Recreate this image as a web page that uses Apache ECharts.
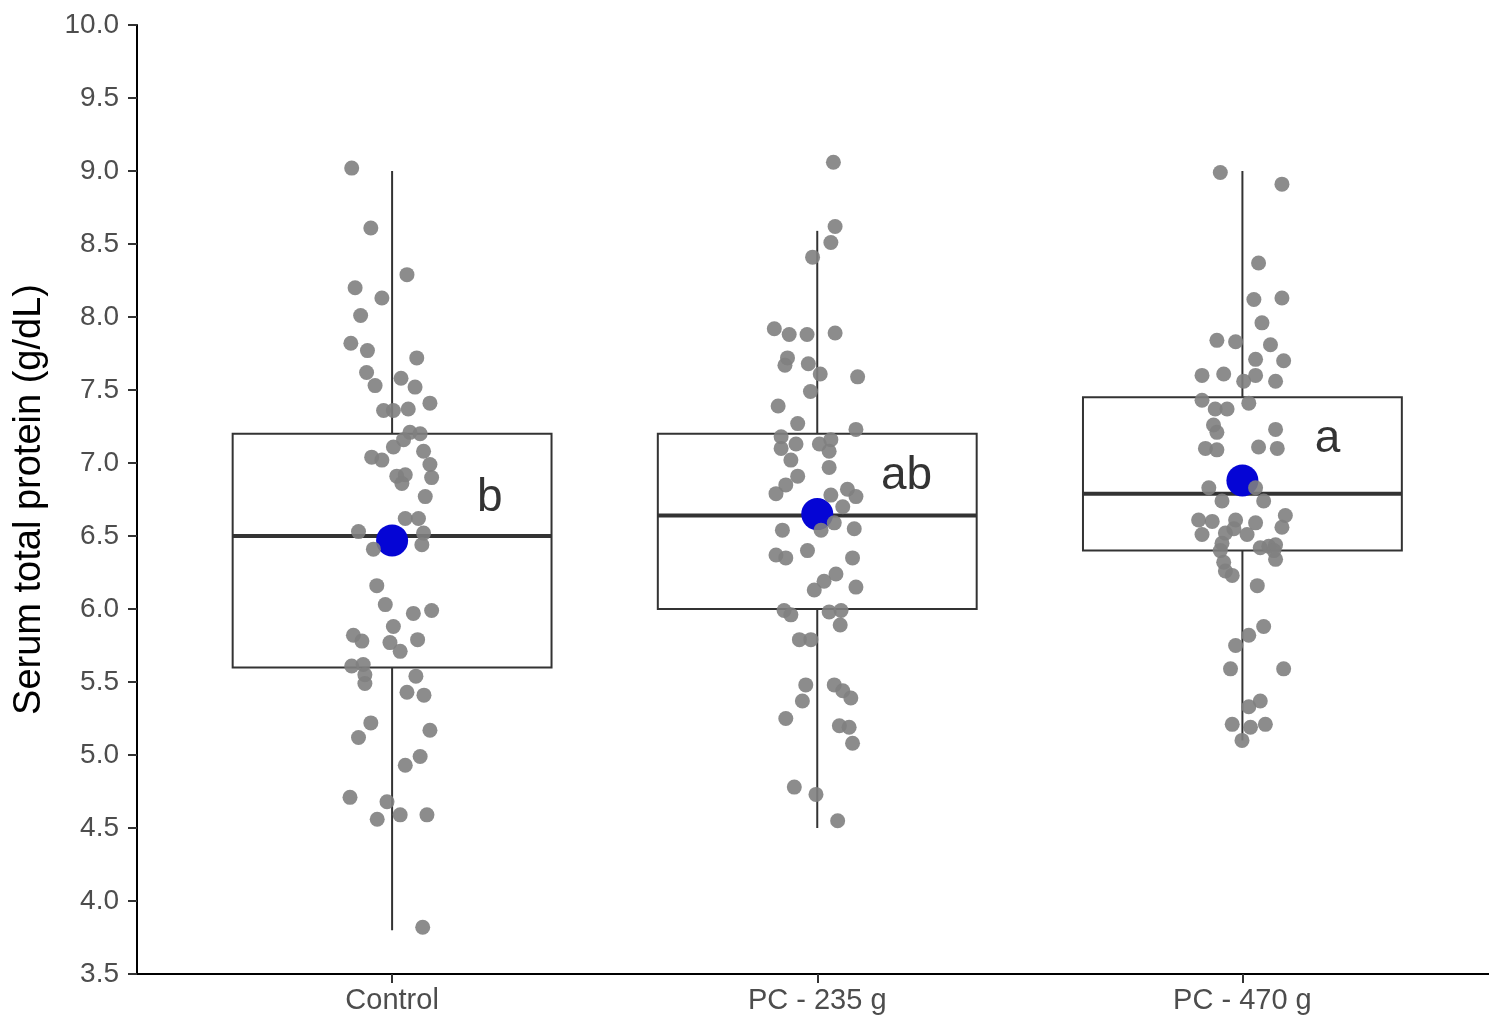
<!DOCTYPE html>
<html>
<head>
<meta charset="utf-8">
<script src="https://cdn.jsdelivr.net/npm/echarts@6/dist/echarts.min.js"></script>
<style>
html,body{margin:0;padding:0;background:#fff;}
#chart{width:1489px;height:1026px;}
</style>
</head>
<body>
<div id="chart"></div>
<script>
// ---- data ----
const categories = ['Control', 'PC - 235 g', 'PC - 470 g'];
const yTicks = [3.5, 4.0, 4.5, 5.0, 5.5, 6.0, 6.5, 7.0, 7.5, 8.0, 8.5, 9.0, 9.5, 10.0];
const whiskerLow = [3.8, 4.5, 5.1];
const q1 = [5.6, 6.0, 6.4];
const median = [6.5, 6.64, 6.79];
const q3 = [7.2, 7.2, 7.45];
const whiskerHigh = [9.0, 8.59, 9.0];
const means = [6.47, 6.65, 6.88];
const letters = ['b', 'ab', 'a'];
const letterAt = [[1.23, 6.76], [2.21, 6.91], [3.2, 7.16]];

// jitter: [horizontal offset from category centre, value]
const controlPoints = [
  [-0.095, 9.02], [-0.05, 8.61], [0.035, 8.29], [-0.087, 8.20], [-0.024, 8.13], [-0.074, 8.01],
  [-0.097, 7.82], [-0.058, 7.77], [0.058, 7.72], [-0.06, 7.62], [0.021, 7.58], [-0.04, 7.53],
  [0.054, 7.52], [0.089, 7.41], [-0.02, 7.36], [0.003, 7.36], [0.038, 7.37], [0.042, 7.21],
  [0.066, 7.20], [0.027, 7.16], [0.003, 7.11], [-0.048, 7.04], [-0.024, 7.02], [0.074, 7.08],
  [0.089, 6.99], [0.011, 6.91], [0.031, 6.92], [0.093, 6.90], [0.023, 6.86], [0.078, 6.77],
  [0.031, 6.62], [0.062, 6.62], [-0.079, 6.53], [0.074, 6.52], [-0.044, 6.41], [0.07, 6.44],
  [-0.036, 6.16], [-0.016, 6.03], [0.05, 5.97], [0.093, 5.99], [0.003, 5.88], [-0.091, 5.82],
  [-0.071, 5.78], [-0.005, 5.77], [0.06, 5.79], [0.019, 5.71], [-0.095, 5.61], [-0.068, 5.62],
  [-0.064, 5.55], [-0.064, 5.49], [0.056, 5.54], [0.035, 5.43], [0.075, 5.41], [-0.05, 5.22],
  [-0.079, 5.12], [0.089, 5.17], [0.066, 4.99], [0.031, 4.93], [-0.099, 4.71], [-0.012, 4.68],
  [-0.035, 4.56], [0.019, 4.59], [0.082, 4.59], [0.072, 3.82]
];
const pc235Points = [
  [0.038, 9.06], [0.042, 8.62], [0.032, 8.51], [-0.011, 8.41], [-0.101, 7.92], [-0.066, 7.88],
  [-0.024, 7.88], [0.042, 7.89], [-0.07, 7.72], [-0.076, 7.67], [-0.021, 7.68], [0.007, 7.61],
  [0.095, 7.59], [-0.016, 7.49], [-0.092, 7.39], [-0.046, 7.27], [0.091, 7.23], [-0.085, 7.18],
  [-0.085, 7.10], [-0.05, 7.13], [0.005, 7.13], [0.032, 7.16], [0.028, 7.08], [-0.062, 7.02],
  [0.028, 6.97], [-0.046, 6.91], [-0.074, 6.85], [-0.097, 6.79], [0.071, 6.82], [0.091, 6.77],
  [0.032, 6.78], [0.06, 6.70], [-0.082, 6.54], [0.009, 6.54], [0.087, 6.55], [0.04, 6.59],
  [-0.097, 6.37], [-0.074, 6.35], [-0.023, 6.40], [0.083, 6.35], [-0.007, 6.13], [0.016, 6.19],
  [0.044, 6.24], [0.091, 6.15], [-0.078, 5.99], [-0.062, 5.96], [0.028, 5.98], [0.056, 5.99],
  [0.054, 5.89], [-0.042, 5.79], [-0.015, 5.79], [-0.027, 5.48], [-0.035, 5.37], [0.04, 5.48],
  [0.06, 5.44], [0.079, 5.39], [-0.074, 5.25], [0.052, 5.20], [0.075, 5.19], [0.083, 5.08],
  [-0.054, 4.78], [-0.003, 4.73], [0.048, 4.55]
];
const pc470Points = [
  [-0.052, 8.99], [0.093, 8.91], [0.038, 8.37], [0.027, 8.12], [0.093, 8.13], [0.046, 7.96],
  [-0.06, 7.84], [-0.016, 7.83], [0.066, 7.81], [0.031, 7.71], [0.097, 7.70], [-0.095, 7.60],
  [-0.044, 7.61], [0.031, 7.60], [0.003, 7.56], [0.078, 7.56], [-0.095, 7.43], [-0.064, 7.37],
  [-0.036, 7.37], [0.015, 7.41], [-0.068, 7.26], [-0.06, 7.21], [0.078, 7.23], [-0.087, 7.10],
  [-0.06, 7.09], [0.038, 7.11], [0.082, 7.10], [-0.079, 6.83], [-0.048, 6.74], [0.031, 6.83],
  [0.05, 6.74], [-0.103, 6.61], [-0.071, 6.60], [-0.016, 6.61], [0.101, 6.64], [0.093, 6.56],
  [0.031, 6.59], [-0.095, 6.51], [-0.04, 6.52], [-0.02, 6.55], [0.011, 6.51], [-0.048, 6.45],
  [0.062, 6.43], [0.078, 6.44], [-0.052, 6.40], [0.042, 6.42], [0.074, 6.40], [0.078, 6.34],
  [-0.044, 6.32], [-0.04, 6.26], [-0.024, 6.23], [0.035, 6.16], [0.05, 5.88], [0.015, 5.82],
  [-0.016, 5.75], [-0.028, 5.59], [0.097, 5.59], [0.042, 5.37], [0.015, 5.33], [-0.024, 5.21],
  [0.019, 5.19], [0.054, 5.21], [-0.001, 5.10]
];
const groupPoints = [controlPoints, pc235Points, pc470Points];

// ---- build ----
const FONT = '"Liberation Sans", Arial, sans-serif';
const boxHalf = 0.375;
const boxData = categories.map((c, i) => [i + 1, whiskerLow[i], q1[i], median[i], q3[i], whiskerHigh[i]]);
const pointData = [];
groupPoints.forEach((pts, i) => pts.forEach(p => pointData.push([i + 1 + p[0], p[1]])));
const meanData = means.map((m, i) => [i + 1, m]);
const letterData = letters.map((l, i) => ({ value: letterAt[i], name: l }));

const chart = echarts.init(document.getElementById('chart'), null, { renderer: 'canvas' });
chart.setOption({
  animation: false,
  backgroundColor: '#ffffff',
  grid: { left: 137, right: 0, top: 25, bottom: 52, containLabel: false },
  xAxis: {
    type: 'value', min: 0.4, max: 3.58,
    splitLine: { show: false },
    axisLine: { show: true, onZero: false, lineStyle: { color: '#000', width: 2 } },
    axisTick: { show: true, length: 9, lineStyle: { color: '#333', width: 2 }, customValues: [1, 2, 3] },
    axisLabel: {
      customValues: [1, 2, 3], margin: 12,
      formatter: v => categories[Math.round(v) - 1] || '',
      color: '#4D4D4D', fontSize: 29, fontFamily: FONT
    }
  },
  yAxis: {
    type: 'value', min: 3.5, max: 10, interval: 0.5,
    name: 'Serum total protein (g/dL)', nameLocation: 'middle', nameGap: 88,
    nameTextStyle: { color: '#000', fontSize: 38, fontFamily: FONT },
    splitLine: { show: false },
    axisLine: { show: true, onZero: false, lineStyle: { color: '#000', width: 2 } },
    axisTick: { show: true, length: 9, lineStyle: { color: '#333', width: 2 } },
    axisLabel: {
      margin: 18, color: '#4D4D4D', fontSize: 28, fontFamily: FONT,
      formatter: v => yTicks.some(t => Math.abs(t - v) < 1e-6) ? v.toFixed(1) : ''
    }
  },
  series: [
    {
      type: 'custom', z: 1,
      data: boxData,
      renderItem: function (params, api) {
        const x = api.value(0);
        const lo = api.coord([x, api.value(1)]);
        const b1 = api.coord([x, api.value(2)]);
        const md = api.coord([x, api.value(3)]);
        const b3 = api.coord([x, api.value(4)]);
        const hi = api.coord([x, api.value(5)]);
        const left = api.coord([x - boxHalf, api.value(3)])[0];
        const right = api.coord([x + boxHalf, api.value(3)])[0];
        const stroke = { stroke: '#333333', lineWidth: 2 };
        return {
          type: 'group',
          children: [
            { type: 'line', shape: { x1: hi[0], y1: hi[1], x2: b3[0], y2: b3[1] }, style: stroke },
            { type: 'line', shape: { x1: b1[0], y1: b1[1], x2: lo[0], y2: lo[1] }, style: stroke },
            { type: 'rect', shape: { x: left, y: b3[1], width: right - left, height: b1[1] - b3[1] },
              style: { fill: '#ffffff', stroke: '#333333', lineWidth: 2 } },
            { type: 'line', shape: { x1: left, y1: md[1], x2: right, y2: md[1] },
              style: { stroke: '#333333', lineWidth: 4 } }
          ]
        };
      }
    },
    {
      type: 'scatter', z: 3,
      data: meanData, symbolSize: 32,
      itemStyle: { color: '#0505D5', opacity: 1 }
    },
    {
      type: 'scatter', z: 4,
      data: pointData, symbolSize: 15,
      itemStyle: { color: '#808080', opacity: 0.9 }
    },
    {
      type: 'scatter', z: 5,
      data: letterData, symbolSize: 1,
      itemStyle: { color: 'rgba(0,0,0,0)' },
      label: {
        show: true, position: 'inside', formatter: p => p.name,
        color: '#000000', fontSize: 46, fontFamily: FONT
      }
    }
  ]
});
</script>
</body>
</html>
